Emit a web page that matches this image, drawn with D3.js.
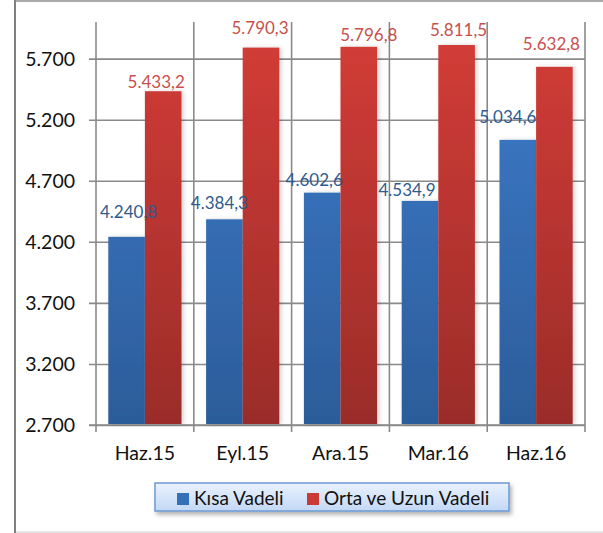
<!DOCTYPE html>
<html>
<head>
<meta charset="utf-8">
<script src="https://cdn.jsdelivr.net/npm/d3@7/dist/d3.min.js"></script>
<style>
  html, body { margin: 0; padding: 0; background: #fff; }
  svg { display: block; font-family: Lato, "Open Sans", sans-serif; }
</style>
</head>
<body>
<svg id="chart" width="603" height="533"></svg>
<script>
// Quarter-end periods
const categories = ["Haz.15", "Eyl.15", "Ara.15", "Mar.16", "Haz.16"];
const seriesNames = ["Kısa Vadeli", "Orta ve Uzun Vadeli"];
const shortTerm = [4240.8, 4384.3, 4602.6, 4534.9, 5034.6];
const longTerm = [5433.2, 5790.3, 5796.8, 5811.5, 5632.8];
const yTicks = [2700, 3200, 3700, 4200, 4700, 5200, 5700];
const yDomain = [2700, 6000];

const svg = d3.select("#chart");
const defs = svg.append("defs");

// number format: "." thousands, "," decimals
const trLocale = d3.formatLocale({ decimal: ",", thousands: ".", grouping: [3], currency: ["", ""] });
const fmtTick = trLocale.format(",.0f");
const fmtVal = trLocale.format(",.1f");

// colours
const palette = [
  { top: "#3d7cca", bottom: "#2c5c9a", label: "#2f5b8f", key: "#3470b8" },
  { top: "#d23c37", bottom: "#9a2c29", label: "#c8504c", key: "#c93a35" }
];
palette.forEach((c, i) => {
  const g = defs.append("linearGradient").attr("id", "grad" + i)
    .attr("gradientUnits", "userSpaceOnUse")
    .attr("x1", 0).attr("x2", 0).attr("y1", 40).attr("y2", 425);
  g.append("stop").attr("offset", 0).attr("stop-color", c.top);
  g.append("stop").attr("offset", 1).attr("stop-color", c.bottom);
});
const lg = defs.append("linearGradient").attr("id", "legendGrad")
  .attr("x1", 0).attr("y1", 0).attr("x2", 0).attr("y2", 1);
lg.append("stop").attr("offset", 0).attr("stop-color", "#eaf2fd");
lg.append("stop").attr("offset", 1).attr("stop-color", "#c3d8f5");

const shadow = defs.append("filter").attr("id", "barShadow")
  .attr("x", "-20%").attr("y", "-5%").attr("width", "160%").attr("height", "110%");
shadow.append("feDropShadow").attr("dx", 2).attr("dy", 0).attr("stdDeviation", 2)
  .attr("flood-color", "#000").attr("flood-opacity", 0.18);
const legShadow = defs.append("filter").attr("id", "legShadow")
  .attr("x", "-10%").attr("y", "-30%").attr("width", "120%").attr("height", "180%");
legShadow.append("feDropShadow").attr("dx", 2).attr("dy", 3).attr("stdDeviation", 2)
  .attr("flood-color", "#000").attr("flood-opacity", 0.3);

// chart frame
svg.append("line").attr("x1", 15).attr("x2", 15).attr("y1", 0).attr("y2", 533)
  .attr("stroke", "#7f7f7f").attr("stroke-width", 2);
svg.append("line").attr("x1", 15).attr("x2", 603).attr("y1", 1).attr("y2", 1)
  .attr("stroke", "#8c8c8c").attr("stroke-width", 1.5);
svg.append("line").attr("x1", 16).attr("x2", 603).attr("y1", 532).attr("y2", 532)
  .attr("stroke", "#d0d0d0").attr("stroke-width", 1);

// plot area
const plot = { left: 96, right: 585, top: 22, bottom: 425 };
const x0 = d3.scaleBand().domain(categories).range([plot.left, plot.right]).padding(0);
const x1 = d3.scaleBand().domain(seriesNames).range([0, x0.bandwidth()])
  .paddingInner(0).paddingOuter(0.336);
const y = d3.scaleLinear().domain(yDomain).range([plot.bottom, plot.top]);

const gridColor = "#8a8a8a";

// horizontal gridlines with left tick marks
const yAxis = d3.axisLeft(y).tickValues(yTicks).tickFormat(fmtTick)
  .tickSize(-(plot.right - plot.left + 7)).tickPadding(0);
const gy = svg.append("g").attr("transform", `translate(${plot.left - 7},0)`).call(yAxis);
gy.select(".domain").remove();
gy.selectAll(".tick line").attr("stroke", gridColor).attr("stroke-width", 1.6)
  .attr("x1", 0).attr("x2", plot.right - plot.left + 7);
gy.selectAll(".tick text").attr("x", -14).attr("dy", "0.35em")
  .attr("fill", "#111").style("font-size", "19.5px").style("font-family", "Lato, sans-serif");

// vertical category boundaries
const bounds = categories.map(c => x0(c)).concat([x0(categories[categories.length - 1]) + x0.bandwidth()]);
svg.append("g").selectAll("line").data(bounds).join("line")
  .attr("x1", d => d).attr("x2", d => d)
  .attr("y1", plot.top).attr("y2", plot.bottom + 7)
  .attr("stroke", gridColor).attr("stroke-width", 1.6);

// x axis line
svg.append("line").attr("x1", plot.left - 7).attr("x2", plot.right)
  .attr("y1", plot.bottom).attr("y2", plot.bottom)
  .attr("stroke", gridColor).attr("stroke-width", 1.6);

// category labels
svg.append("g").selectAll("text").data(categories).join("text")
  .attr("x", d => x0(d) + x0.bandwidth() / 2)
  .attr("y", 460)
  .attr("text-anchor", "middle")
  .attr("fill", "#111")
  .style("font-size", "19.5px")
  .text(d => d);

// bars
const seriesData = [shortTerm, longTerm];
const barGroups = svg.append("g");
seriesData.forEach((vals, si) => {
  barGroups.append("g").selectAll("rect").data(vals).join("rect")
    .attr("x", (d, i) => x0(categories[i]) + x1(seriesNames[si]))
    .attr("width", x1.bandwidth())
    .attr("y", d => y(d))
    .attr("height", d => plot.bottom - 1 - y(d))
    .attr("fill", `url(#grad${si})`)
    .attr("filter", "url(#barShadow)");
});

// value labels, hand-placed offsets (dx, dy from bar top centre)
const labelNudge = [
  [[2, -19], [-5, -10], [-8, -7], [-13, -5], [-10, -17]],
  [[-7, -3], [-1, -13.5], [10, -6], [2, -9], [-3, -17]]
];
const labels = svg.append("g");
seriesData.forEach((vals, si) => {
  labels.append("g").selectAll("text").data(vals).join("text")
    .attr("x", (d, i) => x0(categories[i]) + x1(seriesNames[si]) + x1.bandwidth() / 2 + labelNudge[si][i][0])
    .attr("y", (d, i) => y(d) + labelNudge[si][i][1])
    .attr("text-anchor", "middle")
    .attr("fill", palette[si].label)
    .style("font-size", "17px")
    .text(d => fmtVal(d));
});

// legend
const legend = svg.append("g");
legend.append("rect").attr("x", 155).attr("y", 483).attr("width", 354).attr("height", 28)
  .attr("fill", "url(#legendGrad)").attr("stroke", "#6e9ad3").attr("stroke-width", 1.5)
  .attr("filter", "url(#legShadow)");
const legendX = [177, 307];
seriesNames.forEach((name, si) => {
  legend.append("rect").attr("x", legendX[si]).attr("y", 493).attr("width", 12).attr("height", 12)
    .attr("fill", palette[si].key);
  legend.append("text").attr("x", legendX[si] + 17).attr("y", 505)
    .attr("fill", "#111").style("font-size", "19px").text(name);
});
</script>
</body>
</html>
